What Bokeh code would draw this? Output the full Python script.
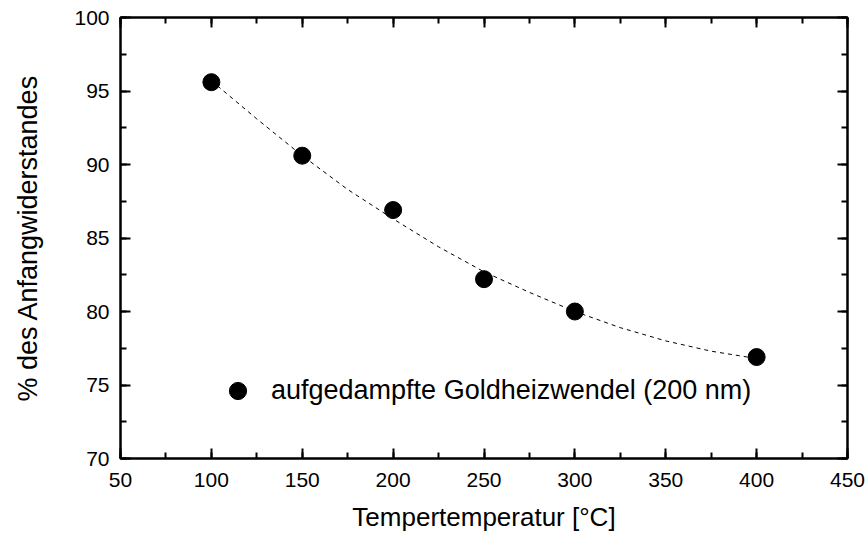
from bokeh.plotting import figure
from bokeh.models import (Range1d, LinearAxis, SingleIntervalTicker, Legend, LegendItem,
                          CustomJSTickFormatter)
from bokeh.embed import file_html
from bokeh.resources import INLINE

# Data
temperature = [100, 150, 200, 250, 300, 400]
resistance_pct = [95.6, 90.6, 86.9, 82.2, 80.0, 76.9]

# dashed fit curve
fit_x = [100, 125, 150, 175, 200, 225, 250, 275, 300, 325, 350, 375, 400]
fit_y = [95.7, 93.1, 90.6, 88.3, 86.3, 84.4, 82.7, 81.3, 80.0, 78.9, 78.0, 77.3, 76.8]

x_label = "Tempertemperatur [°C]"
y_label = "% des Anfangwiderstandes"
series_label = "aufgedampfte Goldheizwendel (200 nm)"

FONT = "Liberation Sans"

p = figure(width=866, height=535, output_backend="svg", toolbar_location=None,
           x_range=Range1d(50, 450), y_range=Range1d(70, 100),
           x_axis_location=None, y_axis_location=None,
           min_border_left=120, min_border_right=19, min_border_top=17, min_border_bottom=77)
p.grid.visible = False
p.outline_line_color = "black"
p.outline_line_width = 2
p.background_fill_color = "white"
p.border_fill_color = "white"


def make_axis(interval, labels=True, label_text=None):
    ax = LinearAxis(ticker=SingleIntervalTicker(interval=interval, num_minor_ticks=2))
    ax.axis_line_width = 2
    ax.major_tick_in = 10
    ax.major_tick_out = 0
    ax.minor_tick_in = 6
    ax.minor_tick_out = 0
    ax.major_tick_line_width = 2
    ax.minor_tick_line_width = 2
    ax.major_label_text_font = FONT
    ax.major_label_text_font_size = "21px"
    ax.major_label_text_color = "black"
    ax.axis_label_text_font = FONT
    ax.axis_label_text_font_size = "26px"
    ax.axis_label_text_font_style = "normal"
    ax.axis_label_text_color = "black"
    if not labels:
        ax.formatter = CustomJSTickFormatter(code="return ''")
        ax.major_label_standoff = 0
    if label_text:
        ax.axis_label = label_text
    return ax


xb = make_axis(50, True, x_label)
xb.major_label_standoff = 14
xb.axis_label_standoff = 12
yl = make_axis(5, True, y_label)
yl.major_label_standoff = 11
yl.axis_label_standoff = 28
yl.axis_label_text_font_size = "27px"
xt = make_axis(50, False)
yr = make_axis(5, False)
p.add_layout(xb, "below")
p.add_layout(yl, "left")
p.add_layout(xt, "above")
p.add_layout(yr, "right")

p.line(fit_x, fit_y, line_color="black", line_width=1, line_dash="4 4")
pts = p.scatter(temperature, resistance_pct, size=17, color="black")

legend = Legend(items=[LegendItem(label=series_label, renderers=[pts])],
                location=(96, 46), padding=0, margin=0, spacing=0,
                glyph_width=43, glyph_height=43, label_height=43, label_standoff=12,
                label_text_font=FONT, label_text_font_size="27px",
                label_text_color="black",
                border_line_color=None, background_fill_alpha=0)
p.add_layout(legend, "center")

open("out.html", "w").write(file_html(p, INLINE))
